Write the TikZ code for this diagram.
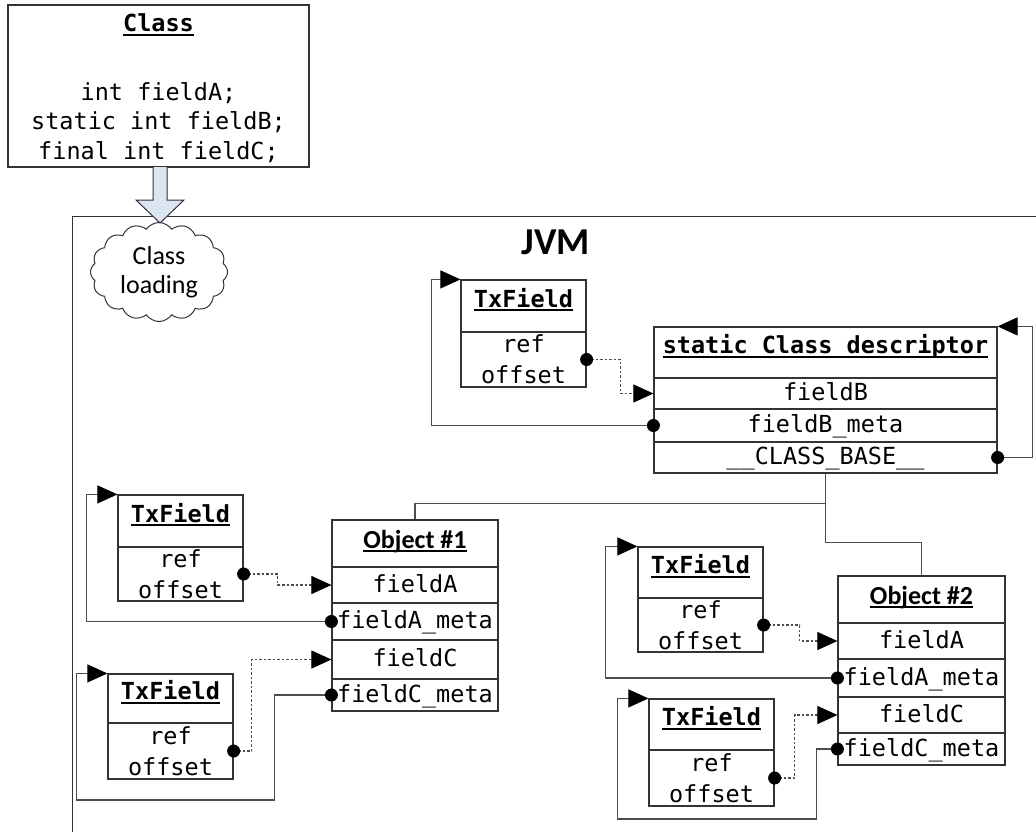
\documentclass[tikz,border=0pt]{standalone}
\usepackage{fontspec}
\setmonofont{DejaVu Sans Mono}
\newfontfamily\calibfont{Carlito}
\usetikzlibrary{arrows.meta,shapes.symbols}
\definecolor{boxc}{HTML}{333333}
\definecolor{linec}{HTML}{4D4D4D}
\definecolor{arrowfill}{HTML}{DCE6F2}
\newcommand\mymono{\ttfamily\fontsize{23.5}{31}\selectfont}
\newsavebox\ulbox
\newcommand\myul[1]{\sbox\ulbox{#1}\rlap{\usebox\ulbox}\rule[-4pt]{\wd\ulbox}{1.8pt}}
\tikzset{
  rowbox/.style={draw=boxc, line width=1.2pt, rectangle, inner sep=0pt, font=\mymono, text height=17pt, text depth=3pt},
  hdrbox/.style={rowbox, text depth=15pt},
  objhdr/.style={rowbox, font=\calibfont\bfseries\fontsize{26}{30}\selectfont, text depth=8pt},
  bodybox/.style={draw=boxc, line width=1.2pt, rectangle, inner sep=0pt, font=\mymono, align=center},
  conn/.style={draw=linec, line width=1.1pt},
  dotline/.style={draw=linec, line width=1.1pt, dash pattern=on 2.5pt off 2pt},
  tip/.style={-{Triangle[length=20pt,width=18pt,color=black,fill=black]}},
  plain/.style={inner sep=0pt}
}
\newcommand\dotat[1]{\fill[black] (#1) circle (6.5pt);}
\begin{document}
\begin{tikzpicture}[x=1pt,y=-1pt]
\useasboundingbox[fill=white] (0,0) rectangle (1036,831);

% JVM frame
\draw[draw=boxc, line width=1pt] (1040,216) -- (72,216) -- (72,840);

% Class box
\node[bodybox, minimum width=301pt, minimum height=162pt] (cls) at (158.5,86) {};
\node[plain, font=\mymono\bfseries] (clsname) at (158.5,25) {\myul{Class}};
\node[plain, font=\ttfamily\fontsize{23.5}{29.5}\selectfont, align=center] (clsbody) at (158.5,122.5) {int fieldA;\\static int fieldB;\\final int fieldC;};

% block arrow
\draw[draw=boxc, fill=arrowfill, line width=1pt] (153,167) -- (153,200) -- (136,200) -- (160,223) -- (184,200) -- (167,200) -- (167,167);

% cloud
\node[cloud, draw=boxc, line width=1pt, cloud puffs=16, cloud puff arc=110, aspect=1.38,
      minimum width=137pt, minimum height=99pt, inner sep=0pt, align=center,
      font=\calibfont\fontsize{26}{29}\selectfont] (load) at (159,272) {Class\\loading};

% JVM title
\node[plain, font=\calibfont\bfseries\fontsize{38}{40}\selectfont] (jvm) at (556,242) {JVM};

% static class descriptor
\node[hdrbox, minimum width=343pt, minimum height=51pt] (dh) at (825.5,352.5) {\bfseries\myul{static Class descriptor}};
\node[rowbox, minimum width=343pt, minimum height=31pt] (dfb) at (825.5,393.5) {fieldB};
\node[rowbox, minimum width=343pt, minimum height=33pt] (dfbm) at (825.5,425.5) {fieldB\_meta};
\node[rowbox, minimum width=343pt, minimum height=31pt] (dbase) at (825.5,457.5) {\_\_CLASS\_BASE\_\_};

% TxField 0
\node[hdrbox, minimum width=125pt, minimum height=52pt] (t0h) at (523.5,306) {\bfseries\myul{TxField}};
\node[bodybox, minimum width=125pt, minimum height=55pt] (t0b) at (523.5,359.5) {ref\\offset};

% Object #1
\node[objhdr, minimum width=166pt, minimum height=47pt] (o1h) at (415,543.5) {\myul{Object \#1}};
\node[rowbox, minimum width=166pt, minimum height=36pt] (o1fa) at (415,585) {fieldA};
\node[rowbox, minimum width=166pt, minimum height=37pt] (o1fam) at (415,621.5) {fieldA\_meta};
\node[rowbox, minimum width=166pt, minimum height=39pt] (o1fc) at (415,659.5) {fieldC};
\node[rowbox, minimum width=166pt, minimum height=32pt] (o1fcm) at (415,695) {fieldC\_meta};

% TxField 1, 2
\node[hdrbox, minimum width=125pt, minimum height=52pt] (t1h) at (180.5,521) {\bfseries\myul{TxField}};
\node[bodybox, minimum width=125pt, minimum height=54pt] (t1b) at (180.5,574) {ref\\offset};
\node[hdrbox, minimum width=125pt, minimum height=49pt] (t2h) at (170.5,698.5) {\bfseries\myul{TxField}};
\node[bodybox, minimum width=125pt, minimum height=56pt] (t2b) at (170.5,751) {ref\\offset};

% Object #2
\node[objhdr, minimum width=167pt, minimum height=47pt] (o2h) at (921.5,599.5) {\myul{Object \#2}};
\node[rowbox, minimum width=167pt, minimum height=36pt] (o2fa) at (921.5,641) {fieldA};
\node[rowbox, minimum width=167pt, minimum height=38pt] (o2fam) at (921.5,678) {fieldA\_meta};
\node[rowbox, minimum width=167pt, minimum height=36pt] (o2fc) at (921.5,715) {fieldC};
\node[rowbox, minimum width=167pt, minimum height=32pt] (o2fcm) at (921.5,749) {fieldC\_meta};

% TxField 3, 4
\node[hdrbox, minimum width=125pt, minimum height=51pt] (t3h) at (700.5,572.5) {\bfseries\myul{TxField}};
\node[bodybox, minimum width=125pt, minimum height=54pt] (t3b) at (700.5,625) {ref\\offset};
\node[hdrbox, minimum width=125pt, minimum height=51pt] (t4h) at (711.5,724.5) {\bfseries\myul{TxField}};
\node[bodybox, minimum width=125pt, minimum height=56pt] (t4b) at (711.5,778) {ref\\offset};

% descriptor connectors
\draw[dotline, tip] (t0b.east) -- ++(34,0) |- (dfb.west);
\draw[conn, tip] (dfbm.west) -- ++(-222,0) |- (t0h.north west);
\draw[conn, tip] (dbase.east) -- ++(35,0) |- (dh.north east);
\dotat{t0b.east}\dotat{dfbm.west}\dotat{dbase.east}

% class base tree
\draw[conn] (dbase.south) -- ++(0,30) -| (o1h.north);
\draw[conn] (dbase.south) -- ++(0,69) -| (o2h.north);

% object 1 connectors
\draw[dotline, tip] (t1b.east) -- ++(34,0) |- (o1fa.west);
\draw[conn, tip] (o1fam.west) -- ++(-245,0) |- (t1h.north west);
\draw[dotline, tip] (t2b.east) -- ++(18,0) |- (o1fc.west);
\draw[conn, tip] (o1fcm.west) -- ++(-57,0) -- ++(0,105) -- ++(-198,0) |- (t2h.north west);
\dotat{t1b.east}\dotat{o1fam.west}\dotat{t2b.east}\dotat{o1fcm.west}

% object 2 connectors
\draw[dotline, tip] (t3b.east) -- ++(36,0) |- (o2fa.west);
\draw[conn, tip] (o2fam.west) -- ++(-232,0) |- (t3h.north west);
\draw[dotline, tip] (t4b.east) -- ++(20,0) |- (o2fc.west);
\draw[conn, tip] (o2fcm.west) -- ++(-21,0) -- ++(0,70) -- ++(-199,0) |- (t4h.north west);
\dotat{t3b.east}\dotat{o2fam.west}\dotat{t4b.east}\dotat{o2fcm.west}
\end{tikzpicture}
\end{document}
